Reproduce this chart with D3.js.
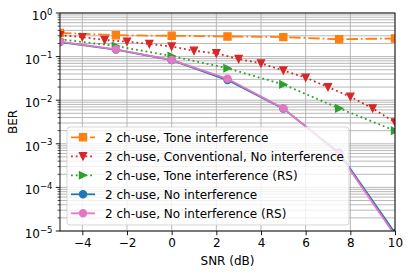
<!DOCTYPE html>
<html>
<head>
<meta charset="utf-8">
<script src="https://cdn.jsdelivr.net/npm/d3@7"></script>
<style>
  body { margin: 0; background: #fff; }
  svg { display: block; font-family: "DejaVu Sans", sans-serif; }
</style>
</head>
<body>
<div id="chart"></div>
<script>
// Data
const snrCoarse = [-5, -2.5, 0, 2.5, 5, 7.5, 10];
const snrFine = [-5, -4, -3, -2, -1, 0, 1, 2, 3, 4, 5, 6, 7, 8, 9, 10];

const toneInterference = [0.35, 0.31, 0.30, 0.29, 0.28, 0.25, 0.26];
const conventionalNoInterf = [0.31, 0.28, 0.24, 0.22, 0.195, 0.17, 0.136, 0.119, 0.088, 0.070, 0.048, 0.033, 0.020, 0.012, 0.0065, 0.0031];
const toneInterferenceRS = [0.25, 0.175, 0.103, 0.054, 0.023, 0.0065, 0.002];
const noInterference = [0.215, 0.145, 0.083, 0.029, 0.0064, 6.2e-4, 0.9e-5];
const noInterferenceRS = [0.22, 0.147, 0.084, 0.031, 0.0065, 5.8e-4, 0.8e-5];

const xTicks = [-4, -2, 0, 2, 4, 6, 8, 10];
const yExponents = [0, -1, -2, -3, -4, -5];

const series = [
    { label: "2 ch-use, Tone interference", x: snrCoarse, y: toneInterference, color: "#ff7f0e", dash: "11.5,2.9,1.8,2.9", marker: "square" },
    { label: "2 ch-use, Conventional, No interference", x: snrFine, y: conventionalNoInterf, color: "#d62728", dash: "1.8,3", marker: "triDown" },
    { label: "2 ch-use, Tone interference (RS)", x: snrCoarse, y: toneInterferenceRS, color: "#2ca02c", dash: "1.8,3", marker: "triRight" },
    { label: "2 ch-use, No interference", x: snrCoarse, y: noInterference, color: "#1f77b4", dash: null, marker: "circle" },
    { label: "2 ch-use, No interference (RS)", x: snrCoarse, y: noInterferenceRS, color: "#e377c2", dash: null, marker: "circle" }
];

const width = 409, height = 275;
const margin = { left: 60, right: 14, top: 13, bottom: 44 };
const plotW = width - margin.left - margin.right;
const plotH = height - margin.top - margin.bottom;

const svg = d3.select("#chart").append("svg")
    .attr("width", width)
    .attr("height", height);

const x = d3.scaleLinear().domain([-5, 10]).range([0, plotW]);
const y = d3.scaleLog().domain([1e-5, 1]).range([plotH, 0]);

svg.append("defs").append("clipPath").attr("id", "plotClip")
    .append("rect").attr("width", plotW).attr("height", plotH);

const g = svg.append("g").attr("transform", `translate(${margin.left},${margin.top})`);

// Grid lines: major x, major + minor y
const gridColor = "#b0b0b0";
const minorY = [];
yExponents.forEach(e => {
    if (e === 0) return;
    for (let k = 2; k <= 9; k++) minorY.push(k * Math.pow(10, e));
});
const grid = g.append("g");
grid.selectAll(".ygrid").data(minorY.concat(yExponents.map(e => Math.pow(10, e))))
    .enter().append("line")
    .attr("x1", 0).attr("x2", plotW)
    .attr("y1", d => y(d)).attr("y2", d => y(d))
    .attr("stroke", gridColor).attr("stroke-width", 0.9);
grid.selectAll(".xgrid").data(xTicks)
    .enter().append("line")
    .attr("x1", d => x(d)).attr("x2", d => x(d))
    .attr("y1", 0).attr("y2", plotH)
    .attr("stroke", gridColor).attr("stroke-width", 0.9);

// Marker symbols (filled, with a thin edge of the same colour)
const markerSize = 7.2;
function markerPath(kind, s) {
    const h = s / 2;
    if (kind === "square") return `M${-h},${-h}H${h}V${h}H${-h}Z`;
    if (kind === "triDown") return `M0,${h}L${-h},${-h}L${h},${-h}Z`;
    if (kind === "triRight") return `M${h},0L${-h},${-h}L${-h},${h}Z`;
    return d3.symbol(d3.symbolCircle, Math.PI * h * h)();
}

const line = d3.line().x(d => x(d[0])).y(d => y(d[1]));

const plot = g.append("g").attr("clip-path", "url(#plotClip)");
series.forEach(s => {
    const pts = s.x.map((v, i) => [v, s.y[i]]);
    plot.append("path")
        .datum(pts)
        .attr("d", line)
        .attr("fill", "none")
        .attr("stroke", s.color)
        .attr("stroke-width", 1.8)
        .attr("stroke-dasharray", s.dash);
    plot.selectAll(null).data(pts).enter().append("path")
        .attr("d", markerPath(s.marker, markerSize))
        .attr("transform", d => `translate(${x(d[0])},${y(d[1])})`)
        .attr("fill", s.color)
        .attr("stroke", s.color)
        .attr("stroke-width", 1.2)
        .attr("stroke-linejoin", "miter");
});

// Axes
const xAxis = g.append("g").attr("transform", `translate(0,${plotH})`)
    .call(d3.axisBottom(x).tickValues(xTicks).tickSize(4.2).tickPadding(3.5)
        .tickFormat(d => d < 0 ? "\u2212" + Math.abs(d) : d));
xAxis.select(".domain").remove();
xAxis.selectAll("text").attr("font-size", 12).attr("fill", "#000").attr("font-family", "DejaVu Sans");
xAxis.selectAll("line").attr("stroke", "#000").attr("stroke-width", 0.9);

const yAxis = g.append("g");
yAxis.selectAll(".major").data(yExponents).enter().append("line")
    .attr("x1", -4.2).attr("x2", 0)
    .attr("y1", e => y(Math.pow(10, e))).attr("y2", e => y(Math.pow(10, e)))
    .attr("stroke", "#000").attr("stroke-width", 0.9);
yAxis.selectAll(".minor").data(minorY).enter().append("line")
    .attr("x1", -2.4).attr("x2", 0)
    .attr("y1", d => y(d)).attr("y2", d => y(d))
    .attr("stroke", "#000").attr("stroke-width", 0.7);

const yLabels = yAxis.selectAll(".ylab").data(yExponents).enter().append("text")
    .attr("x", -7.5)
    .attr("y", e => y(Math.pow(10, e)) + 7)
    .attr("text-anchor", "end")
    .attr("font-size", 12)
    .attr("fill", "#000");
yLabels.append("tspan").text("10");
yLabels.append("tspan")
    .attr("dy", -5.5)
    .attr("font-size", 8.5)
    .text(e => e === 0 ? "0" : "\u2212" + Math.abs(e));

// Spines
g.append("rect")
    .attr("width", plotW).attr("height", plotH)
    .attr("fill", "none").attr("stroke", "#000").attr("stroke-width", 0.9);

// Axis labels
svg.append("text")
    .attr("x", margin.left + plotW / 2).attr("y", 265)
    .attr("text-anchor", "middle").attr("font-size", 12)
    .text("SNR (dB)");
svg.append("text")
    .attr("transform", `translate(16.5,${margin.top + plotH / 2}) rotate(-90)`)
    .attr("text-anchor", "middle").attr("font-size", 12)
    .text("BER");

// Legend
const legend = svg.append("g").attr("transform", "translate(67,127)");
legend.append("rect")
    .attr("width", 282).attr("height", 98)
    .attr("rx", 3)
    .attr("fill", "#fff").attr("fill-opacity", 0.8)
    .attr("stroke", "#cccccc").attr("stroke-opacity", 0.8);
series.forEach((s, i) => {
    const row = legend.append("g").attr("transform", `translate(0,${10.3 + i * 19})`);
    row.append("line")
        .attr("x1", 4).attr("x2", 28)
        .attr("stroke", s.color).attr("stroke-width", 1.8)
        .attr("stroke-dasharray", s.dash);
    row.append("path")
        .attr("d", markerPath(s.marker, markerSize))
        .attr("transform", "translate(16,0)")
        .attr("fill", s.color)
        .attr("stroke", s.color)
        .attr("stroke-width", 1.2);
    row.append("text")
        .attr("x", 38).attr("y", 4.3)
        .attr("font-size", 12)
        .text(s.label);
});
</script>
</body>
</html>
